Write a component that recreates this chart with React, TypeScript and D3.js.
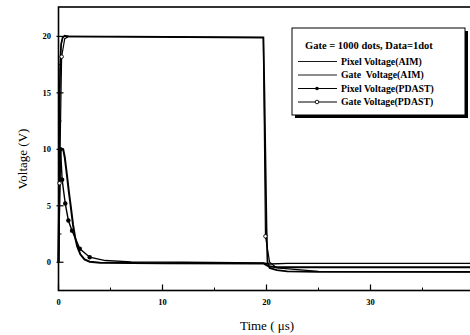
import React from 'react';
import * as d3 from 'd3';

// Pixel Voltage (AIM)
const aimPixelT = [0, 0.05, 0.1, 0.2, 0.45, 0.6, 0.8, 1.0, 1.2, 1.4, 1.6, 1.8, 2.1, 2.5, 3, 4, 10, 19.7, 20.2, 21, 40];
const aimPixelV = [0, 4, 8, 10, 10, 9.3, 7.8, 6.2, 4.8, 3.3, 2.2, 1.4, 0.7, 0.25, 0.05, -0.05, -0.08, -0.1, -0.35, -0.45, -0.45];

// Gate Voltage (AIM)
const aimGateT = [0, 0.05, 0.1, 0.15, 0.25, 0.4, 0.6, 1, 19.7, 19.8, 19.9, 20.0, 20.1, 20.3, 21, 22, 25, 40];
const aimGateV = [0, 6, 13, 17, 19.3, 19.9, 20.05, 20, 19.9, 15, 9, 3, 0, -0.5, -0.7, -0.8, -0.85, -0.85];

// Pixel Voltage (PDAST)
const pdPixelT = [0, 0.2, 0.35, 0.65, 0.95, 1.3, 2.05, 3, 4.5, 7, 12, 19.7, 20.3, 22, 40];
const pdPixelV = [0, 10, 7.3, 5.2, 3.7, 2.8, 1.2, 0.45, 0.15, 0.03, 0, -0.05, -0.15, -0.1, -0.1];

// Gate Voltage (PDAST)
const pdGateT = [0, 0.1, 0.3, 0.6, 1.0, 19.7, 19.9, 20.3, 21, 25, 40];
const pdGateV = [0, 7, 18.2, 19.8, 20, 19.9, 2.3, 0, -0.5, -0.8, -0.85];

const xTicks = [0, 10, 20, 30];
const yTicks = [0, 5, 10, 15, 20];

const legendTitle = 'Gate = 1000 dots, Data=1dot';
const legendLabels = ['Pixel Voltage(AIM)', 'Gate  Voltage(AIM)', 'Pixel Voltage(PDAST)', 'Gate Voltage(PDAST)'];

const x = d3.scaleLinear().domain([0, 40]).range([58.5, 474.5]);
const y = d3.scaleLinear().domain([-2.5, 22.6]).range([290.5, 7]);

const line = d3.line<[number, number]>()
  .x(d => x(d[0]))
  .y(d => y(d[1]));

const zip = (t: number[], v: number[]) => t.map((tt, i) => [tt, v[i]] as [number, number]);

const serif = '"Liberation Serif", "Times New Roman", serif';

export default function App() {
  const aimPixel = zip(aimPixelT, aimPixelV);
  const aimGate = zip(aimGateT, aimGateV);
  const pdPixel = zip(pdPixelT, pdPixelV);
  const pdGate = zip(pdGateT, pdGateV);

  // minor ticks between the labelled ones
  const minorX = d3.range(5, 40, 10);
  const minorY = d3.range(-2.5, 22.5, 5);

  const lx = 292, ly = 28, lw = 173, lh = 87;
  const rowsY = [64.5, 78, 91.5, 105];

  return (
    <svg width={470} height={335} style={{ position: 'absolute', left: 0, top: 0, background: '#fff' }}
      fontFamily={serif}>
      <rect x={0} y={0} width={470} height={335} fill="#fff" />

      {/* frame */}
      <rect x={x(0)} y={y(22.6)} width={x(40) - x(0)} height={y(-2.5) - y(22.6)}
        fill="none" stroke="#000" strokeWidth={1.6} />

      {/* x ticks */}
      {xTicks.map(t => (
        <g key={'xt' + t}>
          <line x1={x(t)} x2={x(t)} y1={y(-2.5)} y2={y(-2.5) - 6} stroke="#000" strokeWidth={1.2} />
          <text x={x(t)} y={305} textAnchor="middle" fontSize={8.5} fontWeight="bold">{t}</text>
        </g>
      ))}
      {minorX.map(t => (
        <line key={'xm' + t} x1={x(t)} x2={x(t)} y1={y(-2.5)} y2={y(-2.5) - 3} stroke="#000" strokeWidth={1} />
      ))}

      {/* y ticks */}
      {yTicks.map(v => (
        <g key={'yt' + v}>
          <line x1={x(0) - 2} x2={x(0) + 5} y1={y(v)} y2={y(v)} stroke="#000" strokeWidth={1.2} />
          <text x={51} y={y(v) + 3} textAnchor="end" fontSize={8.5} fontWeight="bold">{v}</text>
        </g>
      ))}
      {minorY.map(v => (
        <line key={'ym' + v} x1={x(0)} x2={x(0) + 3} y1={y(v)} y2={y(v)} stroke="#000" strokeWidth={1} />
      ))}

      {/* series */}
      <path d={line(aimGate) ?? ''} fill="none" stroke="#000" strokeWidth={1.8} />
      <path d={line(pdGate) ?? ''} fill="none" stroke="#000" strokeWidth={1.2} />
      <path d={line(aimPixel) ?? ''} fill="none" stroke="#000" strokeWidth={2} />
      <path d={line(pdPixel) ?? ''} fill="none" stroke="#000" strokeWidth={1.4} />
      {pdPixel.filter(d => d[0] > 0 && d[0] <= 3).map((d, i) => (
        <circle key={'pp' + i} cx={x(d[0])} cy={y(d[1])} r={2.2} fill="#000" />
      ))}
      {pdGate.filter(d => d[0] > 0 && (d[0] < 0.5 || (d[0] > 19.8 && d[0] < 20)) ).map((d, i) => (
        <circle key={'pg' + i} cx={x(d[0])} cy={y(d[1])} r={1.8} fill="#fff" stroke="#000" strokeWidth={0.9} />
      ))}

      {/* axis titles */}
      <text x={267} y={330} textAnchor="middle" fontSize={13}>Time ( μs)</text>
      <text transform={`translate(27,159) rotate(-90)`} textAnchor="middle" fontSize={13}>Voltage (V)</text>

      {/* legend */}
      <rect x={lx + 3} y={ly + 3} width={lw} height={lh} fill="#000" />
      <rect x={lx} y={ly} width={lw} height={lh} fill="#fff" stroke="#000" strokeWidth={1} />
      <text x={lx + 13} y={48.5} fontSize={10.5} fontWeight="bold">{legendTitle}</text>
      {legendLabels.map((lab, i) => (
        <g key={lab}>
          <line x1={lx + 6} x2={lx + 45} y1={rowsY[i] - 3} y2={rowsY[i] - 3} stroke="#000" strokeWidth={i < 2 ? 0.9 : 1.1} />
          {i === 2 && <circle cx={lx + 25} cy={rowsY[i] - 3} r={1.8} fill="#000" />}
          {i === 3 && <circle cx={lx + 25} cy={rowsY[i] - 3} r={1.8} fill="#fff" stroke="#000" strokeWidth={0.9} />}
          <text x={lx + 49} y={rowsY[i]} fontSize={9.8} fontWeight="bold" style={{ whiteSpace: 'pre' }}>{lab}</text>
        </g>
      ))}
    </svg>
  );
}
